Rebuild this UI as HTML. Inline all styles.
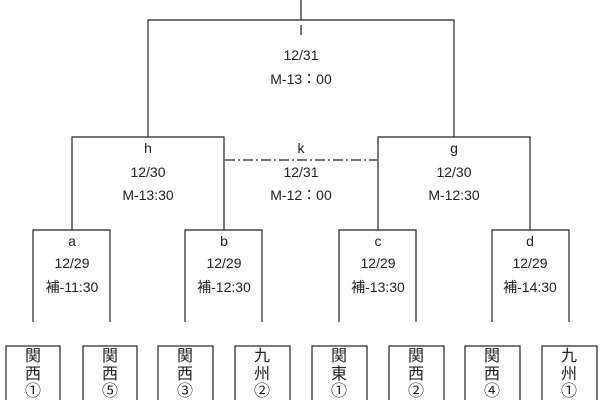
<!DOCTYPE html>
<html><head><meta charset="utf-8"><style>
body{margin:0;background:#fff;}
svg text{font-family:"Liberation Sans","Noto Sans CJK JP",sans-serif;fill:#222;text-anchor:middle;}
</style></head><body>
<svg width="600" height="400" xmlns="http://www.w3.org/2000/svg">
<g stroke="#222" stroke-width="1.2" fill="none">
<line x1="301" y1="0" x2="301" y2="20"/>
<polyline points="148,137 148,20 454,20 454,137"/>
<polyline points="72,230 72,137 224,137 224,230"/>
<polyline points="378,230 378,137 530,137 530,230"/>
<polyline points="33,322 33,230 110,230 110,322"/>
<polyline points="185,322 185,230 262,230 262,322"/>
<polyline points="339,322 339,230 416,230 416,322"/>
<polyline points="492,322 492,230 569,230 569,322"/>
<line x1="225" y1="160" x2="377" y2="160" stroke-dasharray="10,3,2,3"/>
<rect x="6" y="346" width="54" height="60"/>
<rect x="83" y="346" width="54" height="60"/>
<rect x="158" y="346" width="55" height="60"/>
<rect x="235" y="346" width="55" height="60"/>
<rect x="312" y="346" width="55" height="60"/>
<rect x="389" y="346" width="55" height="60"/>
<rect x="465" y="346" width="55" height="60"/>
<rect x="542" y="346" width="55" height="60"/>
</g>
<g font-size="14">
<text x="301" y="35">l</text><text x="301" y="60">12/31</text><text x="301" y="84">M-13：00</text>
<text x="148" y="153">h</text><text x="148" y="177">12/30</text><text x="148" y="200">M-13:30</text>
<text x="301" y="153">k</text><text x="301" y="177">12/31</text><text x="301" y="200">M-12：00</text>
<text x="454" y="153">g</text><text x="454" y="177">12/30</text><text x="454" y="200">M-12:30</text>
<text x="72" y="246">a</text><text x="72" y="268">12/29</text><text x="72" y="292">補-11:30</text>
<text x="224" y="246">b</text><text x="224" y="268">12/29</text><text x="224" y="292">補-12:30</text>
<text x="378" y="246">c</text><text x="378" y="268">12/29</text><text x="378" y="292">補-13:30</text>
<text x="530" y="246">d</text><text x="530" y="268">12/29</text><text x="530" y="292">補-14:30</text>
</g>
<g font-size="16">
<text x="33" y="361">関</text><text x="33" y="379">西</text><text x="33" y="396">①</text>
<text x="110" y="361">関</text><text x="110" y="379">西</text><text x="110" y="396">⑤</text>
<text x="185" y="361">関</text><text x="185" y="379">西</text><text x="185" y="396">③</text>
<text x="262" y="361">九</text><text x="262" y="379">州</text><text x="262" y="396">②</text>
<text x="339" y="361">関</text><text x="339" y="379">東</text><text x="339" y="396">①</text>
<text x="416" y="361">関</text><text x="416" y="379">西</text><text x="416" y="396">②</text>
<text x="492" y="361">関</text><text x="492" y="379">西</text><text x="492" y="396">④</text>
<text x="569" y="361">九</text><text x="569" y="379">州</text><text x="569" y="396">①</text>
</g>
</svg>
</body></html>
